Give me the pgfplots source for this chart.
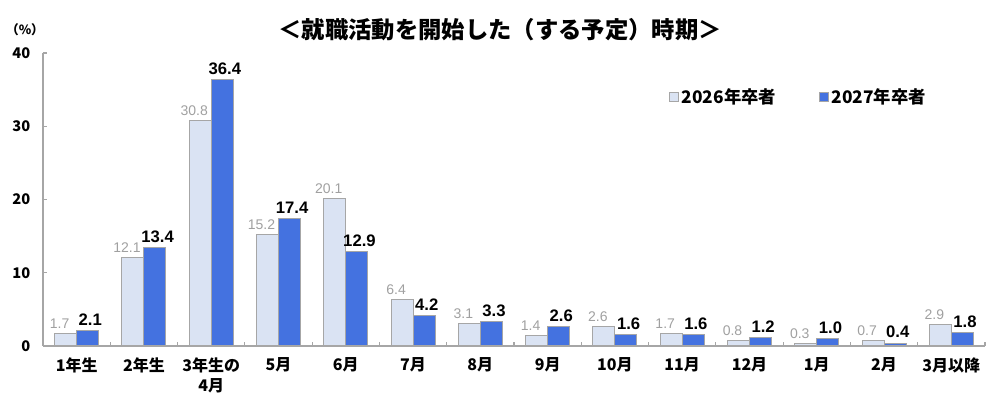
\documentclass[border=0pt]{standalone}
\usepackage{fontspec}
\setmainfont{Noto Sans CJK JP}
\newfontfamily\arial{Liberation Sans}
\usepackage{pgfplots}
\usepackage{pgfplotstable}
\pgfplotsset{compat=1.18}
\definecolor{lightbar}{HTML}{DAE3F3}
\definecolor{darkbar}{HTML}{4472E0}
\definecolor{edge}{HTML}{A6A6A6}
\definecolor{labgray}{HTML}{A0A0A0}
\definecolor{axisgray}{HTML}{A6A6A6}

\pgfplotstableread{
x y26 y27
0 1.7 2.1
1 12.1 13.4
2 30.8 36.4
3 15.2 17.4
4 20.1 12.9
5 6.4 4.2
6 3.1 3.3
7 1.4 2.6
8 2.6 1.6
9 1.7 1.6
10 0.8 1.2
11 0.3 1.0
12 0.7 0.4
13 2.9 1.8
}\data

\begin{document}
\begin{tikzpicture}
\path[use as bounding box] (-32.25pt,-47.25pt) rectangle (717.75pt,259.5pt);
\begin{axis}[
    scale only axis,
    width=706.5pt, height=219.75pt,
    at={(0pt,0pt)}, anchor=south west,
    ybar=0pt, bar width=16.5pt,
    xmin=-0.5, xmax=13.5, ymin=0, ymax=40,
    axis x line=bottom, axis y line=left,
    axis line style={axisgray, line width=1.1pt, -},
    tick align=inside,
    xtick={0,...,13},
    xticklabels={1年生,2年生,{3年生の\\4月},5月,6月,7月,8月,9月,10月,11月,12月,1月,2月,3月以降},
    xticklabel style={align=center, font=\bfseries\fontsize{12}{15}\selectfont, yshift=-5pt},
    major x tick style={draw=none},
    minor xtick={-0.5,0.5,...,13.5},
    minor x tick style={axisgray, line width=0.8pt},
    minor tick length=3pt,
    ytick={0,10,20,30,40},
    major y tick style={axisgray, line width=0.8pt},
    major tick length=3pt,
    yticklabel style={font=\bfseries\fontsize{11}{13}\selectfont, xshift=-6pt},
    /pgf/number format/assume math mode=true,
    legend style={at={(0.66,0.85)}, anchor=west, draw=none, fill=none,
        legend columns=2, font=\bfseries\fontsize{13}{15}\selectfont,
        /tikz/every even column/.append style={column sep=30pt}},
    legend image code/.code={\draw[#1, draw=edge, line width=0.6pt] (0pt,-3.5pt) rectangle (7pt,3.5pt);},
    nodes near coords={\pgfmathprintnumber[fixed,fixed zerofill,precision=1,assume math mode=true]{\pgfplotspointmeta}},
]
\addplot[fill=lightbar, draw=edge, line width=0.8pt,
    every node near coord/.append style={font=\arial\fontsize{10.5}{13}\selectfont, text=labgray, xshift=-4.5pt, inner xsep=0pt}]
    table[x=x, y=y26]{\data};
\addplot[fill=darkbar, draw=edge, line width=0.8pt,
    every node near coord/.append style={font=\arial\bfseries\fontsize{12.5}{14}\selectfont, text=black, xshift=2pt, inner xsep=0pt}]
    table[x=x, y=y27]{\data};
\legend{2026年卒者,2027年卒者}
\end{axis}
\node[font=\bfseries\fontsize{17.5}{20}\selectfont] at (342.75pt,237pt) {＜就職活動を開始した（する予定）時期＞};
\node[font=\bfseries\fontsize{9.5}{11}\selectfont] at (-13.5pt,237pt) {（\%）};
\end{tikzpicture}
\end{document}
